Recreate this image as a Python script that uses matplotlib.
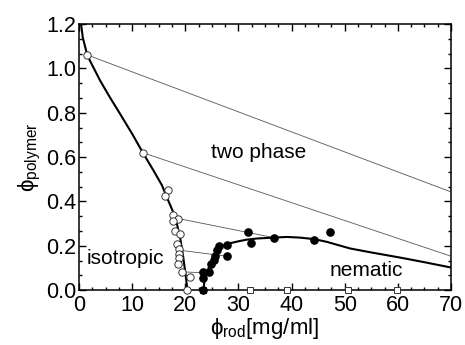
import matplotlib.pyplot as plt
from matplotlib.ticker import MultipleLocator, AutoMinorLocator

plt.rcParams['font.family'] = ['Liberation Sans', 'DejaVu Sans']
plt.rcParams['mathtext.default'] = 'regular'

# isotropic binodal (thick line)
iso_x = [0.38, 0.7, 1.57, 2.8, 3.95, 5.8, 7.7, 10.0, 12.1, 14.0, 15.6, 16.5,
         17.7, 18.4, 19.0, 19.6, 20.1, 20.4]
iso_y = [1.2, 1.14, 1.058, 1.0, 0.946, 0.87, 0.796, 0.705, 0.616, 0.54, 0.473,
         0.42, 0.353, 0.30, 0.24, 0.15, 0.06, 0.0]

# nematic binodal (thick line)
nem_x = [23.4, 23.7, 24.6, 25.6, 26.5, 28.1, 30.3, 31.6, 33.5, 36.6, 39.1, 41.6,
         44.3, 46.6, 51.0, 55.0, 60.4, 65.0, 70.0]
nem_y = [0.0, 0.06, 0.113, 0.158, 0.195, 0.21, 0.222, 0.228, 0.233, 0.237, 0.240,
         0.237, 0.23, 0.218, 0.188, 0.17, 0.147, 0.126, 0.102]

# tie lines: (x1, y1, x2, y2)
tie_x1 = [1.45, 12.0, 18.7, 19.0, 19.3]
tie_y1 = [1.062, 0.62, 0.323, 0.18, 0.083]
tie_x2 = [70.0, 70.0, 36.6, 27.8, 23.4]
tie_y2 = [0.443, 0.153, 0.237, 0.153, 0.078]

# isotropic coexisting points (open circles)
open_x = [1.45, 12.0, 16.8, 16.2, 17.6, 18.7, 17.6, 18.1, 19.0, 18.5, 18.9,
          18.8, 18.8, 18.7, 19.3, 20.9, 20.4]
open_y = [1.062, 0.62, 0.45, 0.425, 0.338, 0.323, 0.312, 0.267, 0.252, 0.207,
          0.186, 0.165, 0.143, 0.120, 0.083, 0.060, 0.0]

# nematic coexisting points (filled circles)
fill_x = [23.4, 23.4, 23.4, 24.4, 24.9, 25.3, 25.6, 26.0, 26.4, 27.9, 27.8,
          31.7, 32.3, 36.6, 44.3, 47.2]
fill_y = [0.0, 0.053, 0.08, 0.08, 0.12, 0.137, 0.155, 0.18, 0.198, 0.205,
          0.152, 0.263, 0.211, 0.237, 0.228, 0.263]

# pure rod samples (open squares)
sq_x = [23.4, 32.2, 39.2, 50.6, 59.8]
sq_y = [0.0, 0.0, 0.0, 0.0, 0.0]

fig = plt.figure(figsize=(4.65, 3.45), dpi=100)
ax = fig.add_axes([0.170, 0.159, 0.800, 0.771])

for x1, y1, x2, y2 in zip(tie_x1, tie_y1, tie_x2, tie_y2):
    ax.plot([x1, x2], [y1, y2], color='#555555', lw=0.6, zorder=2)

ax.plot(iso_x, iso_y, color='black', lw=1.5, zorder=3)
ax.plot(nem_x, nem_y, color='black', lw=1.5, zorder=3)

ax.plot(sq_x, sq_y, 's', ms=4.5, mfc='white', mec='#333333', mew=0.7,
        clip_on=False, zorder=4)
ax.plot(open_x, open_y, 'o', ms=5.3, mfc='white', mec='#333333', mew=0.7,
        clip_on=False, zorder=5)
ax.plot(fill_x, fill_y, 'o', ms=5.2, mfc='black', mec='black',
        clip_on=False, zorder=5)

ax.text(33.7, 0.62, 'two phase', fontsize=15, ha='center', va='center')
ax.text(8.8, 0.144, 'isotropic', fontsize=15, ha='center', va='center')
ax.text(54.0, 0.09, 'nematic', fontsize=15, ha='center', va='center')

ax.set_xlim(0, 70)
ax.set_ylim(0, 1.2)
ax.xaxis.set_major_locator(MultipleLocator(10))
ax.xaxis.set_minor_locator(AutoMinorLocator(4))
ax.yaxis.set_major_locator(MultipleLocator(0.2))
ax.yaxis.set_minor_locator(AutoMinorLocator(3))
ax.yaxis.set_major_formatter(plt.FormatStrFormatter('%.1f'))
ax.tick_params(which='both', direction='in', top=True, right=True,
               labelsize=15.5, width=1)
ax.tick_params(which='major', length=5)
ax.tick_params(axis='x', which='major', pad=3.5)
ax.tick_params(axis='y', which='major', pad=2)
ax.tick_params(which='minor', length=2.5)
for s in ax.spines.values():
    s.set_linewidth(1.1)

ax.set_xlabel('ϕ$_{rod}$[mg/ml]', fontsize=16, labelpad=0)
ax.set_ylabel('ϕ$_{polymer}$', fontsize=16, labelpad=2)

fig.savefig('out.png', dpi=100)
